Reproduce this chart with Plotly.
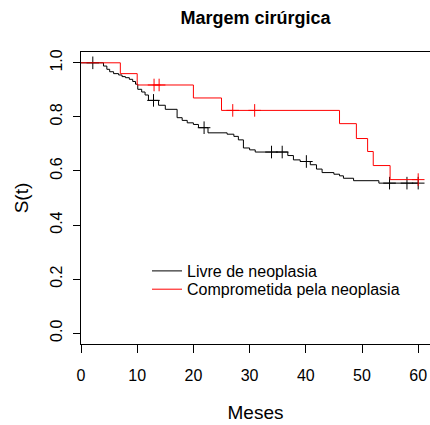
import numpy as np
import plotly.graph_objects as go

# Kaplan-Meier step data
black_times = [0, 4.0, 4.6, 5.1, 5.8, 6.7, 7.3, 7.9, 8.6, 9.2, 9.7, 10.1, 10.8, 11.4, 12.0,
               13.8, 15.0, 17.1, 18.0, 18.9, 20.0, 20.9, 22.6, 26.0, 27.2, 28.0, 28.9, 30.0,
               31.0, 36.8, 37.8, 39.0, 40.8, 41.9, 42.9, 45.0, 46.0, 46.7, 48.5, 53.0, 60.0]
black_surv = [1.0, 0.988, 0.976, 0.967, 0.960, 0.955, 0.949, 0.945, 0.939, 0.931, 0.921, 0.902,
              0.892, 0.881, 0.861, 0.843, 0.828, 0.797, 0.787, 0.778, 0.772, 0.760, 0.741,
              0.736, 0.728, 0.715, 0.685, 0.678, 0.670, 0.657, 0.641, 0.635, 0.623, 0.607,
              0.594, 0.588, 0.582, 0.573, 0.564, 0.555, 0.555]
black_censor = [2.1, 12.9, 21.9, 33.9, 35.8, 40.1, 54.9, 58.0, 60.0]

red_times = [0, 7.0, 10.0, 20.0, 25.0, 46.0, 49.0, 51.0, 52.0, 55.0, 60.0]
red_surv = [1.0, 0.960, 0.918, 0.870, 0.824, 0.775, 0.720, 0.672, 0.620, 0.568, 0.568]
red_censor = [13.0, 13.9, 27.0, 30.9, 60.0]

labels = ["Livre de neoplasia", "Comprometida pela neoplasia"]
x_ticks = [0, 10, 20, 30, 40, 50, 60]
y_ticks = [0.0, 0.2, 0.4, 0.6, 0.8, 1.0]


def step_at(times, surv, t):
    idx = np.searchsorted(np.asarray(times), np.asarray(t), side="right") - 1
    return list(np.asarray(surv)[idx])


FONT = "Liberation Sans, Arial, Helvetica, sans-serif"
fig = go.Figure()

for times, surv, cens, color, name, leg in [
    (black_times, black_surv, black_censor, "black", labels[0], "legend"),
    (red_times, red_surv, red_censor, "#FF0000", labels[1], "legend2"),
]:
    fig.add_trace(go.Scatter(x=times, y=surv, mode="lines", line=dict(color=color, width=1, shape="hv"),
                             name=name, legend=leg))
    fig.add_trace(go.Scatter(x=cens, y=step_at(times, surv, cens), mode="markers", showlegend=False,
                             marker=dict(symbol="cross-thin", size=9, line=dict(color=color, width=1)),
                             hoverinfo="skip"))

leg_common = dict(xanchor="left", yanchor="middle", bgcolor="rgba(0,0,0,0)",
                  font=dict(size=16), itemwidth=30, borderwidth=0)
fig.update_layout(
    width=430, height=425,
    margin=dict(l=81, r=0, t=52, b=81),
    paper_bgcolor="white", plot_bgcolor="white",
    font=dict(family=FONT, size=16, color="black"),
    title=dict(text="<b>Margem cirúrgica</b>", x=0.5, xref="paper", xanchor="center",
               y=1 - 18 / 425, yref="container", yanchor="middle", font=dict(size=18)),
    legend=dict(x=(147 - 81) / 349, y=1 - (271 - 52) / 292, **leg_common),
    legend2=dict(x=(147 - 81) / 349, y=1 - (289.3 - 52) / 292, **leg_common),
    showlegend=True,
)
fig.update_xaxes(range=[0, 62.1], tickvals=x_ticks, ticktext=[str(v) for v in x_ticks],
                 showgrid=False, zeroline=False, showline=True, linecolor="black", linewidth=1,
                 mirror=True, ticks="outside", ticklen=8, tickcolor="black",
                 ticklabelstandoff=9,
                 title=dict(text="Meses", standoff=22))
fig.update_yaxes(range=[-0.04, 1.04], tickvals=y_ticks, ticktext=[f"{v:.1f}" for v in y_ticks],
                 showgrid=False, zeroline=False, showline=True, linecolor="black", linewidth=1,
                 ticks="outside", ticklen=7, tickcolor="black", tickangle=-90,
                 ticklabelstandoff=5,
                 title=dict(text="S(t)", standoff=13))

fig.write_html("out.html")
